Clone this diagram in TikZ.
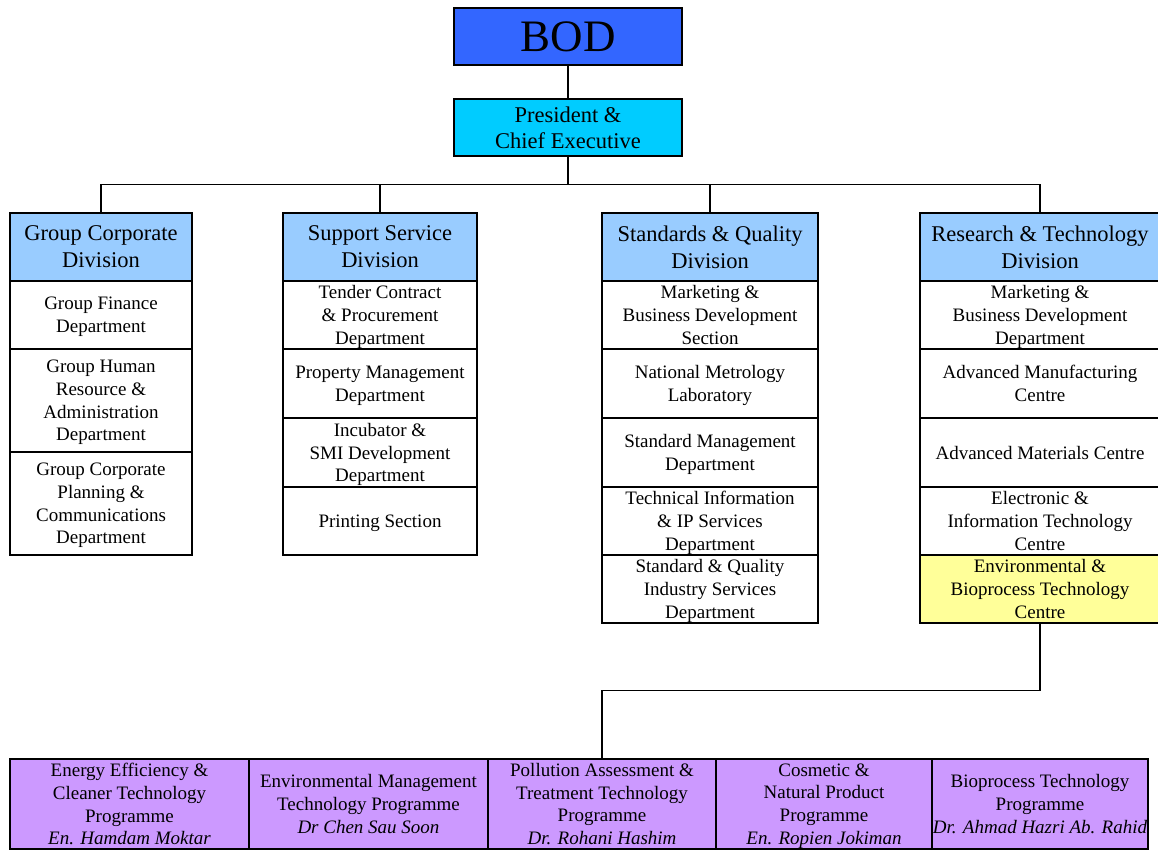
\documentclass[tikz,border=0pt]{standalone}
\usepackage{fontspec}
\setmainfont{Liberation Serif}
\definecolor{bodblue}{HTML}{3366FF}
\definecolor{pceblue}{HTML}{00CCFF}
\definecolor{divblue}{HTML}{99CCFF}
\definecolor{centreyellow}{HTML}{FFFF99}
\definecolor{progpurple}{HTML}{CC99FF}
\tikzset{
  unit/.style={draw, shape=rectangle, line width=1.2pt, inner sep=0pt, align=center,
    text depth=-3.5pt, font=\fontsize{19}{22.7}\selectfont},
  division/.style={unit, fill=divblue, minimum height=68pt,
    font=\fontsize{22.5}{27}\selectfont},
  programme/.style={unit, fill=progpurple, minimum height=90pt},
  link/.style={line width=1.2pt}
}
\begin{document}
\begin{tikzpicture}[x=1pt, y=-1pt]
\useasboundingbox (0,0) rectangle (1158,851);
% top
\node (bod) [unit, fill=bodblue, minimum width=228pt, minimum height=57pt,
  text depth=0pt, font=\fontsize{45}{50}\selectfont] at (568,36.5) {BOD};
\node (pce) [unit, fill=pceblue, minimum width=228pt, minimum height=57pt,
  font=\fontsize{22.5}{26}\selectfont] at (568,127.5) {President \&\\Chief Executive};
% divisions
\node (gcd) [division, minimum width=182pt] at (101,247) {Group Corporate\\Division};
\node (ssd) [division, minimum width=194pt] at (380,247) {Support Service\\Division};
\node (sqd) [division, minimum width=216pt] at (710,247) {Standards \& Quality\\Division};
\node (rtd) [division, minimum width=240pt] at (1040,247) {Research \& Technology\\Division};
% group corporate
\node (gfd) [unit, minimum width=182pt, minimum height=68pt] at (101,315)
  {Group Finance\\Department};
\node (ghr) [unit, minimum width=182pt, minimum height=103pt] at (101,400.5)
  {Group Human\\Resource \&\\Administration\\Department};
\node (gcp) [unit, minimum width=182pt, minimum height=103pt] at (101,503.5)
  {Group Corporate\\Planning \&\\Communications\\Department};
% support service
\node (tcp) [unit, minimum width=194pt, minimum height=68pt] at (380,315)
  {Tender Contract\\\& Procurement\\Department};
\node (pmd) [unit, minimum width=194pt, minimum height=69pt] at (380,383.5)
  {Property Management\\Department};
\node (ismi) [unit, minimum width=194pt, minimum height=69pt] at (380,452.5)
  {Incubator \&\\SMI Development\\Department};
\node (prt) [unit, minimum width=194pt, minimum height=68pt] at (380,521)
  {Printing Section};
% standards and quality
\node (mbds) [unit, minimum width=216pt, minimum height=68pt] at (710,315)
  {Marketing \&\\Business Development\\Section};
\node (nml) [unit, minimum width=216pt, minimum height=69pt] at (710,383.5)
  {National Metrology\\Laboratory};
\node (smd) [unit, minimum width=216pt, minimum height=69pt] at (710,452.5)
  {Standard Management\\Department};
\node (tips) [unit, minimum width=216pt, minimum height=68pt] at (710,521)
  {Technical Information\\\& IP Services\\Department};
\node (sqis) [unit, minimum width=216pt, minimum height=68pt] at (710,589)
  {Standard \& Quality\\Industry Services\\Department};
% research and technology
\node (mbdd) [unit, minimum width=240pt, minimum height=68pt] at (1040,315)
  {Marketing \&\\Business Development\\Department};
\node (amc) [unit, minimum width=240pt, minimum height=69pt] at (1040,383.5)
  {Advanced Manufacturing\\Centre};
\node (amat) [unit, minimum width=240pt, minimum height=69pt] at (1040,452.5)
  {Advanced Materials Centre};
\node (eitc) [unit, minimum width=240pt, minimum height=68pt] at (1040,521)
  {Electronic \&\\Information Technology\\Centre};
\node (ebtc) [unit, fill=centreyellow, minimum width=240pt, minimum height=68pt] at (1040,589)
  {Environmental \&\\Bioprocess Technology\\Centre};
% programmes
\node (eect) [programme, minimum width=239pt] at (129.5,804)
  {Energy Efficiency \&\\Cleaner Technology\\Programme\\\textit{En. Hamdam Moktar}};
\node (emtp) [programme, minimum width=239pt] at (368.5,804)
  {Environmental Management\\Technology Programme\\\textit{Dr Chen Sau Soon}};
\node (patp) [programme, minimum width=228pt] at (602,804)
  {Pollution Assessment \&\\Treatment Technology\\Programme\\\textit{Dr. Rohani Hashim}};
\node (cnpp) [programme, minimum width=216pt] at (824,804)
  {Cosmetic \&\\Natural Product\\Programme\\\textit{En. Ropien Jokiman}};
\node (btp) [programme, minimum width=216pt] at (1040,804)
  {Bioprocess Technology\\Programme\\\textit{Dr. Ahmad Hazri Ab. Rahid}};
% connectors
\draw[link] (bod) -- (pce);
\draw[link] (pce.south) -- ++(0,28) coordinate (bar);
\draw[link] (bar) -| (gcd.north);
\draw[link] (bar) -| (ssd.north);
\draw[link] (bar) -| (sqd.north);
\draw[link] (bar) -| (rtd.north);
\draw[link] (ebtc.south) -- ++(0,67) coordinate (knee);
\draw[link] (knee) -| (patp.north);
\end{tikzpicture}
\end{document}
